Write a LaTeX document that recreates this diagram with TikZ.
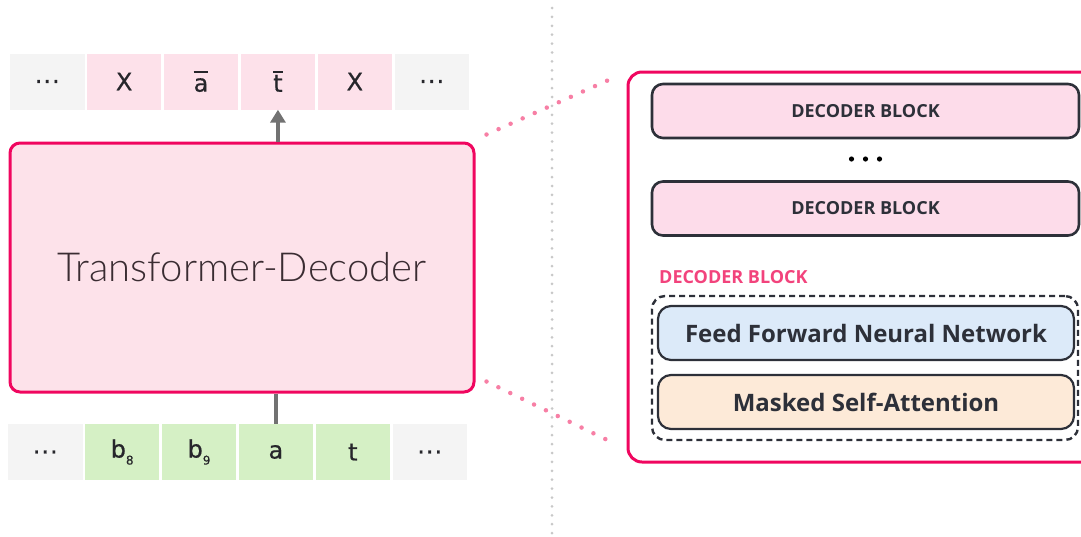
\documentclass[tikz,border=0pt]{standalone}
\usepackage{amsmath}
\usepackage{calc}
\usepackage{fontspec}
\setmainfont{DejaVu Sans}
\newfontfamily\tokfont{DejaVu Sans}[FakeBold=0.6]
\newfontfamily\blockfont{Open Sans}
\newfontfamily\thinfont{Lato Light}
\usetikzlibrary{positioning,arrows.meta}

\definecolor{cellgray}{HTML}{F4F4F4}
\definecolor{cellpink}{HTML}{FDE1EA}
\definecolor{cellgreen}{HTML}{D5F0C5}
\definecolor{tokentext}{HTML}{26262B}
\definecolor{hotpink}{HTML}{F0065F}
\definecolor{boxpink}{HTML}{FDE2EA}
\definecolor{blockpink}{HTML}{FDDCEA}
\definecolor{labelpink}{HTML}{F2437C}
\definecolor{dotpink}{HTML}{F77FA5}
\definecolor{darkline}{HTML}{2D3039}
\definecolor{ffnnblue}{HTML}{DCEAF9}
\definecolor{attnorange}{HTML}{FDEAD8}
\definecolor{arrowgray}{HTML}{727272}
\definecolor{sepgray}{HTML}{C8C8C8}
\definecolor{titletext}{HTML}{3A2C32}

\tikzset{
  tok/.style={minimum width=74.5pt, minimum height=56pt, inner sep=0pt,
    text=tokentext, font=\tokfont\fontsize{24}{24}\selectfont},
  tokgray/.style={tok, fill=cellgray},
  tokpink/.style={tok, fill=cellpink},
  tokgreen/.style={tok, fill=cellgreen},
  blockbox/.style={draw=darkline, line width=2.6pt, rounded corners=11pt,
    minimum width=427pt, minimum height=54pt, inner sep=0pt,
    fill=blockpink, text=darkline, font=\blockfont\bfseries\fontsize{18}{18}\selectfont},
  layerbox/.style={draw=darkline, line width=2.2pt, rounded corners=13pt,
    minimum width=416pt, minimum height=54pt, inner sep=0pt,
    text=darkline, font=\blockfont\bfseries\fontsize{24}{24}\selectfont},
  zoomdots/.style={dotpink, line width=4.5pt, line cap=round,
    dash pattern=on 0pt off 13.2pt},
}

\newcommand{\subtok}[2]{#1\raisebox{-7pt}{\fontsize{12}{12}\selectfont #2}}
\newcommand{\bartok}[1]{\leavevmode\rlap{\raisebox{19pt}{\rule{\widthof{#1}}{1.6pt}}}#1}
\newcommand{\tokdots}{.\kern1pt.\kern1pt.}

\begin{document}
\begin{tikzpicture}[x=1pt, y=-1pt]
    \clip (0,0) rectangle (1081,536);

    % Separatore verticale
    \draw[sepgray, line width=3pt, line cap=round, dash pattern=on 0pt off 8.9pt]
        (552,8) -- (552,536);

    % Token in uscita
    \node[tokgray] (out1) at (47.25,81.5) {\tokdots};
    \node[tokpink, right=2pt of out1] (out2) {X};
    \node[tokpink, right=2pt of out2] (out3) {\bartok{a}};
    \node[tokpink, right=2pt of out3] (out4) {\bartok{t}};
    \node[tokpink, right=2pt of out4] (out5) {X};
    \node[tokgray, right=2pt of out5] (out6) {\tokdots};

    % Token in ingresso
    \node[tokgray] (in1) at (45.25,452) {\tokdots};
    \node[tokgreen, right=2pt of in1] (in2) {\subtok{b}{8}};
    \node[tokgreen, right=2pt of in2] (in3) {\subtok{b}{9}};
    \node[tokgreen, right=2pt of in3] (in4) {a};
    \node[tokgreen, right=2pt of in4] (in5) {t};
    \node[tokgray, right=2pt of in5] (in6) {\tokdots};

    % Blocco principale
    \node[draw=hotpink, line width=3pt, fill=boxpink, rounded corners=10pt,
        minimum width=464pt, minimum height=249pt, text=titletext,
        font=\thinfont\fontsize{40}{40}\selectfont] (dec) at (242,267.5)
        {Transformer-Decoder};

    % Frecce
    \draw[arrowgray, line width=3.6pt, -{Triangle[width=15pt,length=13pt]}]
        (dec.north -| out4) -- (out4.south);
    \draw[arrowgray, line width=3.6pt] (in4.north) -- (in4.north |- dec.south);

    % Dettaglio a destra
    \node[draw=hotpink, line width=3pt, rounded corners=14pt,
        minimum width=470pt, minimum height=390pt] (zoom) at (863,267) {};

    % Linee tratteggiate di ingrandimento
    \draw[zoomdots] ([shift={(11,-7)}]dec.north east) -- ([shift={(-10,6)}]zoom.north west);
    \draw[zoomdots] ([shift={(11,-12)}]dec.south east) -- ([shift={(-12,-20)}]zoom.south west);

    % Pila di blocchi
    \node[blockbox] (blk1) at (865.5,111) {DECODER BLOCK};
    \node[blockbox] (blk2) at (865.5,208.5) {DECODER BLOCK};
    \foreach \dx in {-14,0,14}
        \fill[black] ([xshift=\dx]blk1.south |- 0,159) circle (2.6pt);

    % Struttura interna del blocco
    \node[anchor=west, text=labelpink, inner sep=0pt,
        font=\blockfont\bfseries\fontsize{18}{18}\selectfont] (blklabel) at (659,277)
        {DECODER BLOCK};
    \node[draw=darkline, line width=2.4pt, dash pattern=on 6pt off 4pt,
        rounded corners=13pt, minimum width=426pt, minimum height=144pt] (inner) at (865,368) {};
    \node[layerbox, fill=ffnnblue] (ffnn) at (866,333) {Feed Forward Neural Network};
    \node[layerbox, fill=attnorange] (attn) at (866,402) {Masked Self-Attention};
\end{tikzpicture}
\end{document}
